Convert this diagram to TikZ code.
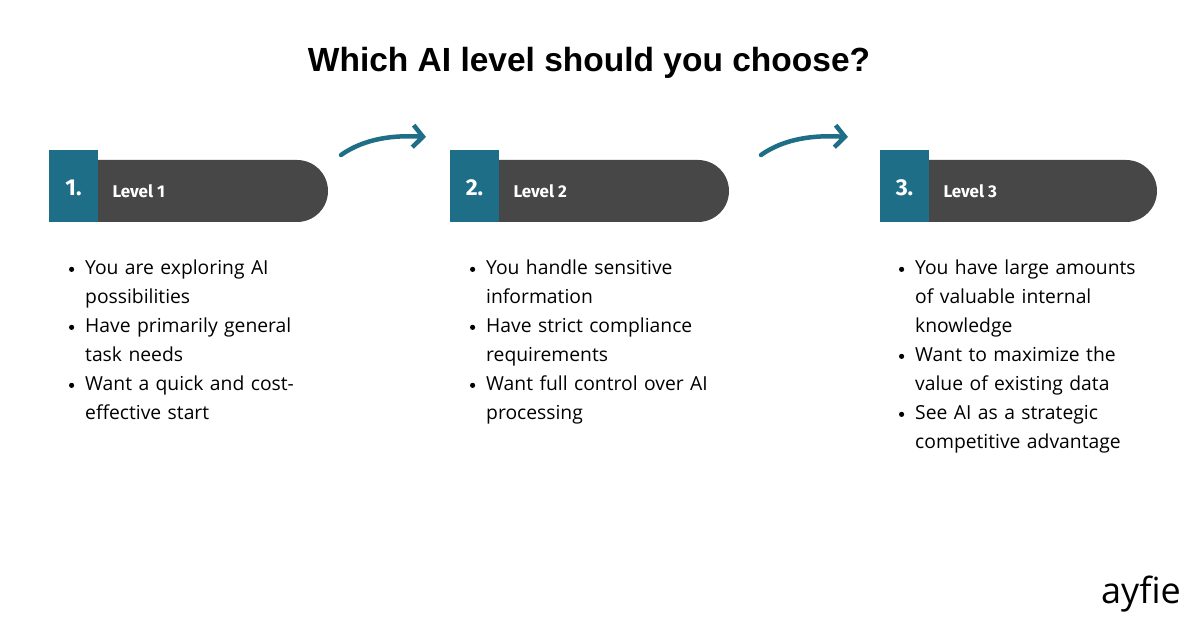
\documentclass[tikz,border=0pt]{standalone}
\usepackage{fontspec}
\setmainfont{Open Sans}
\newfontfamily\titlefont{Liberation Sans}
\newfontfamily\boldfont{Fira Sans}
\usetikzlibrary{arrows.meta}
\definecolor{teal1}{HTML}{1F6E87}
\definecolor{dark1}{HTML}{474747}
\hyphenpenalty=10000
\tikzset{
 numbox/.style={fill=teal1,draw=none},
 pill/.style={fill=dark1,draw=none},
 numtxt/.style={text=white,font=\boldfont\fontsize{23}{26}\selectfont\bfseries,anchor=center},
 lvltxt/.style={text=white,font=\boldfont\fontsize{17}{20}\selectfont\bfseries,anchor=west},
 bul/.style={anchor=north west,align=left,text width=240pt,inner sep=0pt,font=\fontsize{19.3}{29}\selectfont},
 flow/.style={teal1,line width=4.5pt,line cap=round,-{Straight Barb[length=10pt,width=22pt,line width=4.5pt]}}
}
\begin{document}
\begin{tikzpicture}[x=1pt,y=-1pt]
\useasboundingbox[fill=white] (0,0) rectangle (1200,628);
\node[font=\titlefont\fontsize{33.5}{36}\selectfont\bfseries] (title) at (589,63) {Which AI level should you choose?};
\foreach \i/\x/\w in {1/49/230,2/450/230,3/880/228}{
 \fill[pill] (\x+49,160) -- (\x+49+\w-31,160) arc[start angle=-90,end angle=90,radius=31] -- (\x+49,222) -- cycle;
 \fill[numbox] (\x,150) rectangle (\x+49,222);
 \node[numtxt] (n\i) at (\x+24.5,188) {\i.};
 \node[lvltxt] (l\i) at (\x+60,191) {Level \i};
}
\newcommand{\bpt}[1]{\makebox[0pt][r]{\raisebox{0.15em}{\tikz\fill (0,0) circle (2.6pt);}\hspace{11pt}}#1}
\node[bul] (b1) at (85,260) {\bpt{}You are exploring AI possibilities\\\bpt{}Have primarily general task needs\\\bpt{}Want a quick and cost-effective start};
\node[bul] (b2) at (486,260) {\bpt{}You handle sensitive information\\\bpt{}Have strict compliance requirements\\\bpt{}Want full control over AI processing};
\node[bul] (b3) at (915,260) {\bpt{}You have large amounts of valuable internal knowledge\\\bpt{}Want to maximize the value of existing data\\\bpt{}See AI as a strategic competitive advantage};
\coordinate (a1s) at (341,155); \coordinate (a1e) at (426,137);
\coordinate (a2s) at (761,155); \coordinate (a2e) at (848,137);
\draw[flow] (a1s) .. controls (365,138) and (395,135) .. (a1e);
\draw[flow] (a2s) .. controls (785,138) and (815,135) .. (a2e);
\node[font=\fontsize{36}{38}\selectfont,anchor=center] (logo) at (1141,594) {ayfie};
\end{tikzpicture}
\end{document}
